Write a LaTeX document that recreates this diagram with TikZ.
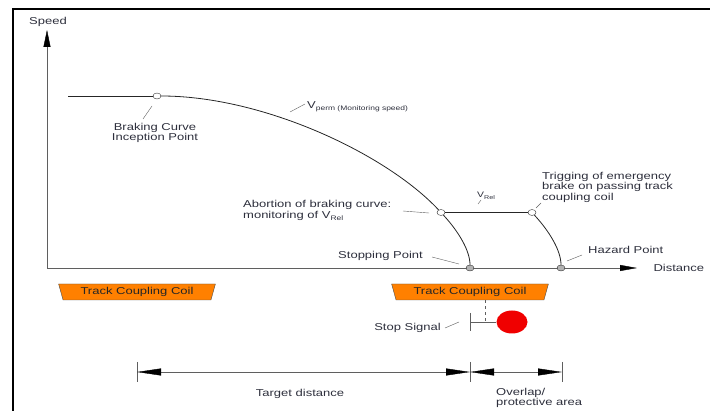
\documentclass[tikz,border=0pt]{standalone}
\usepackage{fontspec}
\setmainfont{Liberation Sans}[FakeStretch=1.3]
\usepackage{tikz}
\usetikzlibrary{calc, positioning, arrows.meta, shapes.geometric}
\definecolor{coilOrange}{RGB}{255, 128, 0}
\definecolor{signalRed}{RGB}{240, 0, 0}
\definecolor{axisGray}{RGB}{95, 95, 95}
\definecolor{textGray}{RGB}{45, 47, 60}

\begin{document}
\begin{tikzpicture}[x=1pt, y=-1pt, font=\fontsize{10}{10.5}\selectfont, text=textGray,
  pt/.style={ellipse, draw=black!80, fill=white, inner sep=0pt, minimum width=8pt, minimum height=6pt},
  endpt/.style={pt, fill=black!30},
  leader/.style={draw=axisGray, thin},
  curve/.style={draw=black!85, line width=0.8pt},
  coil/.style={trapezium, trapezium angle=73, shape border rotate=180, trapezium stretches=true,
    draw=black!70, fill=coilOrange, minimum width=157pt, minimum height=16pt, inner sep=1pt, text=black!85}]
  \useasboundingbox (0,0) rectangle (710,411);
  % frame
  \draw[line width=2.5pt] (710,9) -- (13,9) -- (13,411);

  % axes
  \coordinate (O) at (47,268);
  \draw[axisGray, -{Triangle[length=17pt, width=7pt, color=black]}] (O) -- (47,30) coordinate (vtop);
  \draw[axisGray, -{Triangle[length=17pt, width=6pt, color=black]}] (O) -- (637,268) coordinate (xend);
  \node (speed) at (48,22) {Speed};
  \node[anchor=west] (dist) at (650,268) {Distance};

  % braking curve
  \coordinate (flat) at (68,96);
  \node[pt] (bci) at (157,96) {};
  \node[pt] (abort) at (441,212.5) {};
  \node[pt] (trig) at (532,212.5) {};
  \node[endpt] (stop) at (470,268) {};
  \node[endpt] (hazard) at (561,268) {};
  \draw[curve] (flat) -- (bci);
  \draw[curve] (bci) .. controls (264,96) and (387,154.5) .. (abort)
    .. controls (459,232) and (470,251) .. (stop);
  \draw[curve] (abort) -- (trig);
  \draw[curve] (trig) .. controls (550,232) and (561,251) .. (hazard);

  % labels on the curves
  \node[align=center] (bcilbl) at (155,133) {Braking Curve\\Inception Point};
  \draw[leader] (152,106) -- (143,119);
  \node[anchor=base west, inner sep=0pt] (vperm) at (307,109)
    {V\raisebox{-0.35ex}{\fontsize{6.5}{7}\selectfont perm (Monitoring speed)}};
  \draw[leader] (290,112) -- (305,104);
  \node[anchor=west, align=left, inner sep=0pt] (abortlbl) at (243,210.5)
    {Abortion of braking curve:\\monitoring of V\raisebox{-0.35ex}{\fontsize{6.5}{7}\selectfont Rel}};
  \draw[leader] (403,211) -- (429,213);
  \node[anchor=base west, inner sep=0pt, font=\fontsize{8}{9}\selectfont] (vrel) at (477,198)
    {V\raisebox{-0.35ex}{\fontsize{5.5}{6}\selectfont Rel}};
  \draw[leader] (478,204) -- (481,200);
  \node[anchor=west, align=left, inner sep=0pt] (triglbl) at (542,187)
    {Trigging of emergency\\brake on passing track\\coupling coil};
  \draw[leader] (536,208) -- (541,203);
  \node[anchor=east, inner sep=0pt] (stoplbl) at (423,256) {Stopping Point};
  \draw[leader] (432,257) -- (459,264);
  \node[anchor=west, inner sep=0pt] (hazlbl) at (588,250) {Hazard Point};
  \draw[leader] (567,261) -- (582,255);

  % track coupling coils
  \node[coil] (coil1) at (137,292) {Track Coupling Coil};
  \node[coil] (coil2) at (470,292) {Track Coupling Coil};

  % stop signal
  \coordinate (post) at (470,322);
  \coordinate (sigjoin) at (485,322);
  \node[ellipse, fill=signalRed, inner sep=0pt, minimum width=31pt, minimum height=23pt] (lamp) at (512,322) {};
  \draw[axisGray] (470,313) -- (470,331);
  \draw[axisGray] (post) -- (lamp);
  \draw[axisGray, dashed] (coil2.south -| sigjoin) -- (sigjoin);
  \node[anchor=east, inner sep=0pt] (siglbl) at (441,328) {Stop Signal};
  \draw[leader] (445,328) -- (459,322);

  % distances
  \coordinate (d1) at (137,372);
  \coordinate (d2) at (470,372);
  \coordinate (d3) at (562,372);
  \foreach \d in {d1,d2,d3}
    \draw[axisGray] ($(\d)+(0,-10)$) -- ($(\d)+(0,10)$);
  \draw[axisGray, {Triangle[length=24pt, width=7pt, color=black]}-{Triangle[length=24pt, width=7pt, color=black]}] (d1) -- (d2);
  \draw[axisGray, {Triangle[length=24pt, width=7pt, color=black]}-{Triangle[length=24pt, width=7pt, color=black]}] (d2) -- (d3);
  \node (target) at (300,394) {Target distance};
  \node[anchor=west, align=left, inner sep=0pt] (overlap) at (496,398) {Overlap/\\protective area};
\end{tikzpicture}
\end{document}
